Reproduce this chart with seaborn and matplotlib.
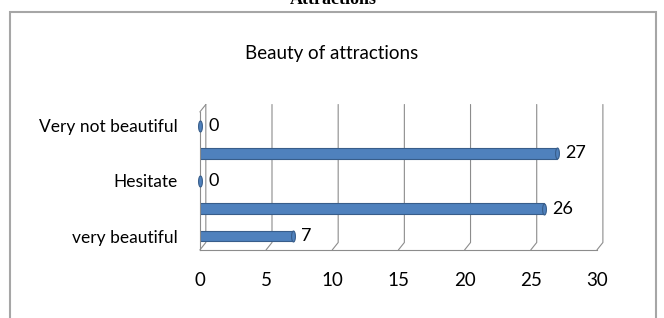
import matplotlib
matplotlib.use("Agg")
import matplotlib.pyplot as plt
from matplotlib.patches import Rectangle
from matplotlib.path import Path
import numpy as np
import pandas as pd
import seaborn as sns

# data, listed bottom to top as in the chart
categories = ["very beautiful", "beautiful", "Hesitate", "not beautiful", "Very not beautiful"]
tick_labels = ["very beautiful", "", "Hesitate", "", "Very not beautiful"]
values = [7, 26, 0, 27, 0]
x_ticks = [0, 5, 10, 15, 20, 25, 30]
title = "Beauty of attractions"
page_heading = "Attractions"

BAR = "#4F81BD"
EDGE = "#385D8A"
GRID = "#8C8C8C"

sns.set_style("white")
plt.rcParams["font.family"] = ["Lato", "DejaVu Sans"]
plt.rcParams["text.color"] = "black"
plt.rcParams["xtick.labelcolor"] = "black"
plt.rcParams["ytick.labelcolor"] = "black"

df = pd.DataFrame({"category": categories, "value": values})
order = categories[::-1]

fig = plt.figure(figsize=(6.64, 3.18), dpi=100)
ax = fig.add_axes([0.301, 0.214, 0.598, 0.434])

sns.barplot(data=df, x="value", y="category", order=order, color=BAR,
            edgecolor=EDGE, linewidth=0.8, width=0.38, saturation=1, ax=ax)

# rounded cylinder caps at bar ends
t = np.linspace(0, 2 * np.pi, 40)
cap = Path(np.column_stack([0.35 * np.cos(t), np.sin(t)]))
pos = [order.index(c) for c in categories]
ax.scatter(values, pos, marker=cap, s=62, color=BAR, edgecolor=EDGE,
           linewidth=0.8, zorder=4, clip_on=False)

ax.bar_label(ax.containers[0], padding=6, fontsize=13)

ax.set_xlim(0, 30)
ax.set_ylim(4.5, -0.5)
ax.set_xticks(x_ticks)
ax.set_yticks(range(len(order)))
ax.set_yticklabels(tick_labels[::-1], fontsize=12.5)
ax.set_yticks(np.arange(-0.5, 5, 1), minor=True)
ax.tick_params(axis="y", which="major", length=0, pad=16)
ax.tick_params(axis="y", which="minor", length=5, color=GRID, width=0.8)
ax.tick_params(axis="x", length=5, color=GRID, width=0.8, pad=11, labelsize=13.5)
ax.set_xlabel("")
ax.set_ylabel("")
sns.despine(ax=ax, top=True, right=True)
for s in ["left", "bottom"]:
    ax.spines[s].set_color(GRID)
    ax.spines[s].set_linewidth(0.8)

# back wall of the 3D frame
dx, dy = 0.45, 0.27
bottom, top = 4.5, -0.5
for xt in x_ticks:
    ax.plot([xt, xt + dx, xt + dx], [bottom, bottom - dy, top - dy],
            color=GRID, lw=0.8, zorder=0, clip_on=False)
ax.plot([0, dx], [top, top - dy], color=GRID, lw=0.8, zorder=0, clip_on=False)

fig.text(0.5, 1 - 53 / 318, title, ha="center", va="center", fontsize=13.5)
fig.text(0.502, 1.0, page_heading, ha="center", va="center", fontsize=13,
         fontweight="bold", family="Liberation Serif")
fig.patches.append(Rectangle((10 / 664, -0.1), 646 / 664, 1.1 - 12 / 318,
                             transform=fig.transFigure, fill=False,
                             edgecolor="#A6A6A6", linewidth=1.5))

fig.savefig("out.png", dpi=100)
